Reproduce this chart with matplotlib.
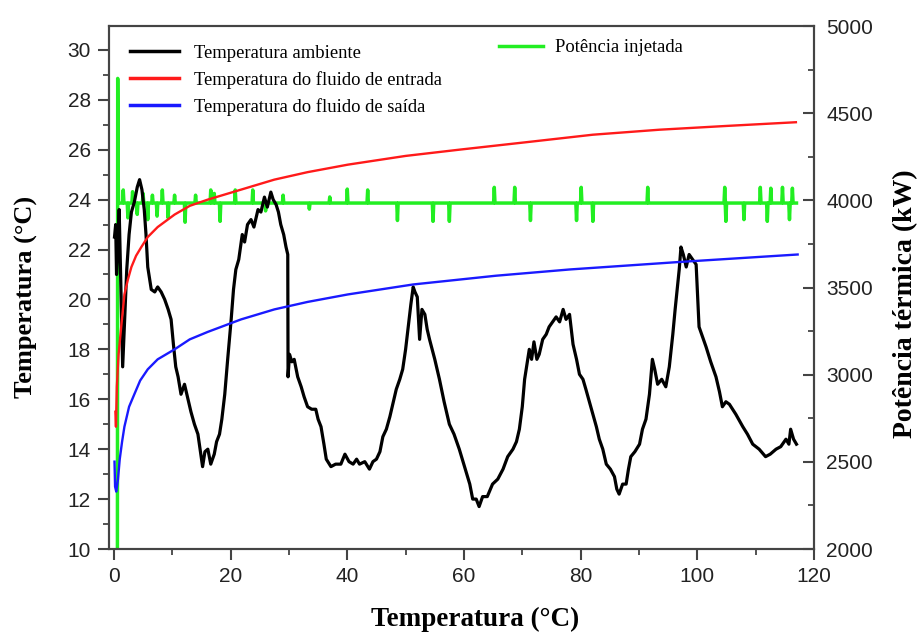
import matplotlib
matplotlib.use('Agg')
import matplotlib.pyplot as plt
from matplotlib.ticker import MultipleLocator

# ambient temperature
amb_x = [0.1, 0.3, 0.45, 0.7, 0.9, 1.1, 1.5, 1.8, 2.2, 2.6, 3.0, 3.5, 4.0, 4.4, 4.8, 5.2, 5.5, 5.8,
         6.4, 7.0, 7.5, 8.1, 8.7, 9.3, 9.8, 10.2, 10.6, 11.0, 11.5, 12.1, 12.7, 13.2, 13.8, 14.4, 15.2,
         15.6, 16.1, 16.6, 17.2, 17.6, 18.1, 18.5, 19.0, 19.5, 20.1, 20.5, 20.9, 21.4, 22.0, 22.4, 22.9,
         23.5, 24.0, 24.7, 25.2, 25.8, 26.3, 26.9, 27.3, 27.8, 28.2, 28.6, 29.1, 29.5, 29.8, 29.85,
         30.1, 30.5, 30.9, 31.5, 32.1, 32.6, 33.2, 33.9, 34.6, 35.0, 35.5, 36.0, 36.4, 37.2, 38.0, 38.9,
         39.6, 40.3, 41.0, 41.6, 42.1, 43.0, 43.8, 44.4, 45.0, 45.6, 46.1, 46.7, 47.3, 47.9, 48.4, 49.0,
         49.5, 50.0, 50.4, 50.9, 51.3, 51.6, 52.0, 52.4, 52.8, 53.3, 53.7, 54.1, 55.0, 55.8, 56.6, 57.5,
         58.3, 59.2, 60.1, 61.0, 61.5, 62.1, 62.6, 63.2, 64.0, 64.9, 65.8, 66.7, 67.5, 68.4, 69.0, 69.5,
         70.0, 70.4, 70.8, 71.2, 71.6, 72.0, 72.5, 72.9, 73.5, 74.1, 74.6, 75.2, 75.8, 76.4, 77.0, 77.5,
         78.1, 78.7, 79.3, 79.8, 80.4, 80.9, 81.5, 82.1, 82.7, 83.2, 83.8, 84.4, 85.1, 85.8, 86.2, 86.6,
         87.2, 87.8, 88.2, 88.6, 89.3, 90.1, 90.6, 91.2, 91.8, 92.3, 92.7, 93.2, 93.9, 94.6, 95.2, 95.8,
         96.2, 96.6, 96.9, 97.2, 97.6, 98.1, 98.6, 99.2, 99.8, 100.3, 100.9, 101.5, 102.3, 103.2, 103.8,
         104.3, 104.9, 105.5, 106.6, 107.8, 108.6, 109.5, 110.6, 111.7, 112.5, 113.5, 114.3, 115.2, 115.7,
         116.0, 116.5, 117.0]
amb_y = [22.5, 23.0, 21.0, 22.2, 23.6, 21.5, 17.3, 19.0, 21.2, 22.6, 23.5, 23.9, 24.5, 24.8, 24.4, 23.6, 22.6, 21.3,
         20.4, 20.3, 20.5, 20.3, 20.0, 19.6, 19.2, 18.2, 17.3, 16.9, 16.2, 16.6, 16.0, 15.5, 15.0, 14.6, 13.3,
         13.9, 14.0, 13.4, 13.8, 14.3, 14.6, 15.2, 16.2, 17.6, 19.2, 20.4, 21.2, 21.6, 22.6, 22.3, 23.0,
         23.2, 22.9, 23.6, 23.5, 24.1, 23.7, 24.3, 24.0, 23.8, 23.5, 23.0, 22.6, 22.1, 21.8, 16.9,
         17.8, 17.5, 17.6, 16.9, 16.5, 16.1, 15.7, 15.6, 15.6, 15.2, 14.9, 14.2, 13.6, 13.3, 13.4, 13.4,
         13.8, 13.5, 13.4, 13.6, 13.4, 13.5, 13.2, 13.5, 13.6, 13.9, 14.5, 14.8, 15.3, 15.9, 16.4, 16.8,
         17.2, 18.0, 18.8, 19.8, 20.5, 20.3, 20.1, 18.4, 19.6, 19.4, 18.8, 18.4, 17.6, 16.8, 15.9, 15.0,
         14.6, 14.0, 13.3, 12.6, 12.0, 12.0, 11.7, 12.1, 12.1, 12.6, 12.8, 13.2, 13.7, 14.0, 14.3, 14.8,
         15.7, 16.8, 17.4, 18.0, 17.6, 18.3, 17.6, 17.8, 18.4, 18.6, 18.9, 19.1, 19.3, 19.1, 19.6, 19.2,
         19.4, 18.2, 17.6, 17.0, 16.8, 16.4, 15.9, 15.4, 14.9, 14.4, 14.0, 13.4, 13.2, 12.9, 12.4, 12.2,
         12.6, 12.6, 13.2, 13.7, 13.9, 14.2, 14.8, 15.2, 16.2, 17.6, 17.2, 16.6, 16.8, 16.5, 17.3, 18.6,
         19.6, 20.5, 21.2, 22.1, 21.8, 21.3, 21.8, 21.6, 21.4, 18.9, 18.5, 18.1, 17.5, 16.9, 16.3,
         15.7, 15.9, 15.8, 15.4, 14.9, 14.6, 14.2, 14.0, 13.7, 13.8, 14.0, 14.1, 14.4, 14.2,
         14.8, 14.4, 14.2]

# inlet fluid temperature
ent_x = [0.25, 0.35, 0.5, 0.8, 1.25, 1.8, 2.4, 3.0, 3.8, 4.7, 5.8, 7.5, 10.4, 13.0, 16.1, 21.8, 27.5,
         33.2, 40.1, 50.0, 59.2, 70.7, 82.1, 93.5, 104.9, 116.9]
ent_y = [15.5, 14.9, 16.5, 17.8, 18.9, 20.2, 20.8, 21.3, 21.75, 22.1, 22.5, 22.9, 23.4, 23.75, 24.0,
         24.4, 24.8, 25.1, 25.4, 25.75, 26.0, 26.3, 26.6, 26.8, 26.95, 27.1]

# outlet fluid temperature
sai_x = [0.1, 0.2, 0.4, 0.7, 1.0, 1.4, 1.8, 2.6, 3.5, 4.5, 5.8, 7.5, 10.4, 13.0, 16.1, 21.8, 27.5,
         33.2, 40.1, 51.3, 65.5, 78.1, 96.9, 117.2]
sai_y = [13.5, 12.5, 12.3, 12.8, 13.6, 14.3, 14.9, 15.7, 16.2, 16.75, 17.2, 17.6, 18.0, 18.4, 18.7,
         19.2, 19.6, 19.9, 20.2, 20.6, 20.95, 21.2, 21.5, 21.8]

# injected power (kW)
pot_base = 3985
pot_start_x = [0.6, 0.65, 0.75, 0.8]
pot_start_y = [2000, 4700, 4100, 3985]
spike_x = [1.6, 2.4, 3.2, 4.0, 5.0, 5.8, 6.6, 7.4, 8.3, 9.3, 10.4, 12.2, 14.0, 16.6, 17.2, 18.2,
           20.8, 23.8, 26.0, 29.0, 33.5, 37.0, 40.0, 43.5, 48.6, 54.7, 57.5, 65.2, 68.7, 71.4, 79.3,
           80.1, 82.1, 91.5, 104.7, 104.9, 108.0, 110.8, 112.0, 112.6, 114.6, 115.8, 116.3]
spike_y = [4060, 3900, 4050, 3920, 4040, 3890, 4030, 3910, 4060, 3900, 4030, 3875, 4030, 4060, 4040, 3880,
           4060, 4060, 3940, 4030, 3950, 4020, 4065, 4060, 3885, 3880, 3880, 4075, 4075, 3885, 3885,
           4075, 3880, 4075, 4075, 3880, 3890, 4075, 3880, 4070, 4075, 3890, 4070]
pot_end = 117.0

pot_x = list(pot_start_x)
pot_y = list(pot_start_y)
for sx, sy in zip(spike_x, spike_y):
    pot_x += [sx - 0.12, sx, sx + 0.12]
    pot_y += [pot_base, sy, pot_base]
pot_x.append(pot_end)
pot_y.append(pot_base)

plt.rcParams['font.family'] = ['Liberation Sans', 'DejaVu Sans']

fig = plt.figure(figsize=(9.21, 6.33), dpi=100)
ax = fig.add_axes([0.1183, 0.1327, 0.7655, 0.826])
ax2 = ax.twinx()

l1, = ax.plot(amb_x, amb_y, color='black', lw=2.3, label='Temperatura ambiente')
l2, = ax.plot(ent_x, ent_y, color='#ff1a1a', lw=1.7, label='Temperatura do fluido de entrada')
l3, = ax.plot(sai_x, sai_y, color='#1a1aff', lw=1.7, label='Temperatura do fluido de saída')
l4, = ax2.plot(pot_x, pot_y, color='#22ee22', lw=2.5, label='Potência injetada')

ax.set_zorder(ax2.get_zorder() + 1)
ax.patch.set_visible(False)

ax.set_xlim(-0.85, 120)
ax.set_ylim(10, 30.95)
ax2.set_ylim(2000, 5000)

ax.xaxis.set_major_locator(MultipleLocator(20))
ax.xaxis.set_minor_locator(MultipleLocator(10))
ax.yaxis.set_major_locator(MultipleLocator(2))
ax.yaxis.set_minor_locator(MultipleLocator(1))
ax2.yaxis.set_major_locator(MultipleLocator(500))
ax2.yaxis.set_minor_locator(MultipleLocator(250))

for a in (ax, ax2):
    for s in a.spines.values():
        s.set_color('#444444')
        s.set_linewidth(1.5)
ax.tick_params(which='major', length=8, width=1.5, color='#444444', labelsize=15,
               labelcolor='#222222', direction='out', pad=5)
ax.tick_params(which='minor', length=4, width=1.3, color='#444444', direction='out')
ax2.tick_params(which='major', length=8, width=1.5, color='#444444', labelsize=15,
                labelcolor='#222222', direction='in', pad=9)
ax2.tick_params(which='minor', length=4, width=1.3, color='#444444', direction='in')

serif = ['Liberation Serif', 'DejaVu Serif']
ax.set_xlabel('Temperatura (°C)', family=serif, fontweight='bold', fontsize=19.5)
ax.set_ylabel('Temperatura (°C)', family=serif, fontweight='bold', fontsize=19)
ax2.set_ylabel('Potência térmica (kW)', family=serif, fontweight='bold', fontsize=20)
ax.xaxis.set_label_coords(0.52, -0.111)
ax.yaxis.set_label_coords(-0.101, 0.482)
ax2.yaxis.set_label_coords(1.112, 0.47)

leg1 = ax.legend(handles=[l1, l2, l3], loc='upper left', bbox_to_anchor=(0.02, 0.979), frameon=False,
                 prop={'family': serif, 'size': 13.4}, handlelength=2.6, handletextpad=0.8,
                 labelspacing=0.5, borderaxespad=0)
for h in leg1.get_lines():
    h.set_linewidth(2.5)
ax.add_artist(leg1)
leg2 = ax.legend(handles=[l4], loc='upper left', bbox_to_anchor=(0.542, 0.989), frameon=False,
                 prop={'family': serif, 'size': 13.4}, handlelength=2.4, handletextpad=0.65,
                 borderaxespad=0)
for h in leg2.get_lines():
    h.set_linewidth(2.5)

fig.savefig('out.png', dpi=100)
